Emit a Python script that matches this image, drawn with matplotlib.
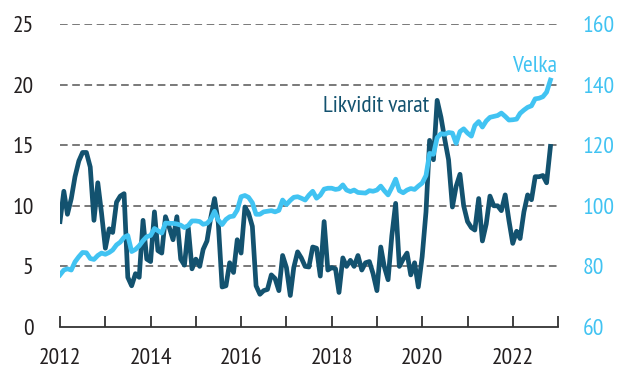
import numpy as np
import pandas as pd
import matplotlib
matplotlib.use("Agg")
import matplotlib.pyplot as plt
import matplotlib.dates as mdates

# monthly series, Jan 2012 -> Nov 2022
months = pd.date_range("2012-01-01", periods=131, freq="MS")

# Likvidit varat (left axis)
likvidit = [
    8.7, 11.2, 9.3, 10.6, 12.4, 13.7, 14.4, 14.4, 13.2, 8.8, 11.9, 9.4,
    6.5, 8.1, 7.8, 10.3, 10.8, 11.0, 4.1, 3.4, 4.4, 4.1, 8.8, 5.6,
    5.4, 9.5, 6.3, 6.1, 9.1, 8.2, 7.2, 9.1, 5.6, 5.1, 8.2, 4.8,
    5.6, 5.0, 6.4, 7.1, 9.0, 10.6, 8.6, 3.3, 3.4, 5.3, 4.5, 7.2,
    6.1, 9.9, 9.4, 8.3, 3.4, 2.7, 3.0, 3.1, 4.3, 4.0, 3.0, 5.9,
    4.9, 2.6, 4.9, 6.2, 5.7, 5.0, 4.95, 6.6, 6.5, 4.2, 8.7, 4.7,
    4.9, 4.8, 2.85, 5.7, 5.0, 5.5, 5.0, 5.9, 4.7, 5.3, 5.4, 4.4,
    3.0, 6.6, 5.0, 3.9, 7.5, 10.2, 5.0, 5.6, 6.1, 4.3, 5.3, 3.3,
    5.8, 9.5, 15.4, 13.8, 18.7, 17.3, 15.5, 13.8, 9.9, 11.6, 12.6, 10.0,
    8.7, 8.2, 8.0, 10.6, 7.1, 8.5, 10.8, 10.0, 10.0, 9.6, 10.9, 8.8,
    6.9, 7.9, 7.3, 9.5, 10.9, 10.5, 12.4, 12.4, 12.5, 11.9, 14.9,
]

# Velka (right axis)
velka = [
    77.2, 78.8, 79.2, 78.8, 81.5, 83.2, 84.6, 84.5, 82.6, 82.3, 83.6, 84.4,
    84.0, 84.6, 85.4, 87.1, 88.0, 89.6, 90.2, 84.9, 85.6, 86.8, 88.5, 89.8,
    90.2, 92.5, 91.8, 91.0, 94.3, 94.2, 94.2, 94.0, 93.6, 92.8, 93.5, 95.0,
    95.0, 94.8, 93.9, 94.2, 95.5, 98.2, 95.3, 93.8, 95.5, 96.4, 96.6, 98.6,
    103.0, 103.4, 102.8, 101.0, 97.2, 97.2, 98.0, 98.2, 98.4, 98.0, 98.5, 101.9,
    100.4, 101.8, 102.8, 103.0, 102.5, 101.9, 103.5, 104.8, 102.5, 103.5, 105.5, 105.8,
    105.8, 105.4, 105.6, 106.9, 105.2, 104.7, 105.2, 104.4, 104.3, 104.2, 105.0, 104.8,
    105.2, 106.5, 105.0, 103.6, 106.0, 108.8, 105.0, 104.3, 105.2, 105.7, 105.4, 106.5,
    107.5, 110.0, 117.3, 117.0, 122.5, 123.8, 123.6, 124.2, 124.0, 120.6, 124.5, 125.4,
    124.0, 123.0, 126.5, 127.8, 126.0, 128.0, 129.2, 129.5, 129.8, 130.6, 129.5, 128.3,
    128.4, 128.6, 130.5, 131.6, 132.5, 133.0, 135.3, 135.5, 136.0, 137.5, 141.5,
]

left_ticks = [0, 5, 10, 15, 20, 25]
right_ticks = [60, 80, 100, 120, 140, 160]
year_labels = [2012, 2014, 2016, 2018, 2020, 2022]

dark = "#13526f"
light = "#41c3f2"
txt = "#231f20"
fs = 17

# narrow sans, falling back to Roboto
plt.rcParams["font.family"] = ["PT Sans Narrow", "Roboto Condensed", "Roboto"]

fig = plt.figure(figsize=(6.26, 3.74), dpi=100)
ax = fig.add_axes([60 / 626, 47 / 374, 498 / 626, 303 / 374])
ax2 = ax.twinx()

ax.plot(months, likvidit, color=dark, lw=3.4, solid_joinstyle="round", zorder=3)
ax2.plot(months, velka, color=light, lw=3.4, solid_joinstyle="round", zorder=4)

ax.set_ylim(0, 25)
ax2.set_ylim(60, 160)
ax.set_xlim(pd.Timestamp("2012-01-01"), pd.Timestamp("2023-01-01"))

for y in left_ticks[1:]:
    ax.axhline(y, color="#555555", lw=1.1, dashes=(5, 3), zorder=1)

for a in (ax, ax2):
    for s in ("top", "left", "right", "bottom"):
        a.spines[s].set_visible(False)
ax.spines["bottom"].set_visible(True)
ax.spines["bottom"].set_color("#333333")
ax.spines["bottom"].set_linewidth(1.3)

ax.set_yticks(left_ticks)
ax.set_yticklabels([str(v) for v in left_ticks])
ax.tick_params(axis="y", length=0, pad=19, labelsize=fs, labelcolor=txt)
ax2.set_yticks(right_ticks)
ax2.set_yticklabels([str(v) for v in right_ticks])
ax2.tick_params(axis="y", length=0, pad=18, labelsize=fs, labelcolor=light)

ax.xaxis.set_major_locator(mdates.YearLocator(1))
ax.xaxis.set_major_formatter(
    plt.FuncFormatter(lambda v, p: str(mdates.num2date(v).year)
                      if mdates.num2date(v).year in year_labels else ""))
ax.tick_params(axis="x", direction="in", length=8, width=1.3, color="#333333",
               pad=15, labelsize=fs, labelcolor=txt)

ax.text(pd.Timestamp("2020-03-01"), 17.7, "Likvidit varat", color=dark,
        fontsize=fs, ha="right", va="baseline", zorder=5)
ax.text(pd.Timestamp("2022-12-25"), 21.0, "Velka", color=light,
        fontsize=fs, ha="right", va="baseline", zorder=5)

fig.savefig("out.png", dpi=100)
